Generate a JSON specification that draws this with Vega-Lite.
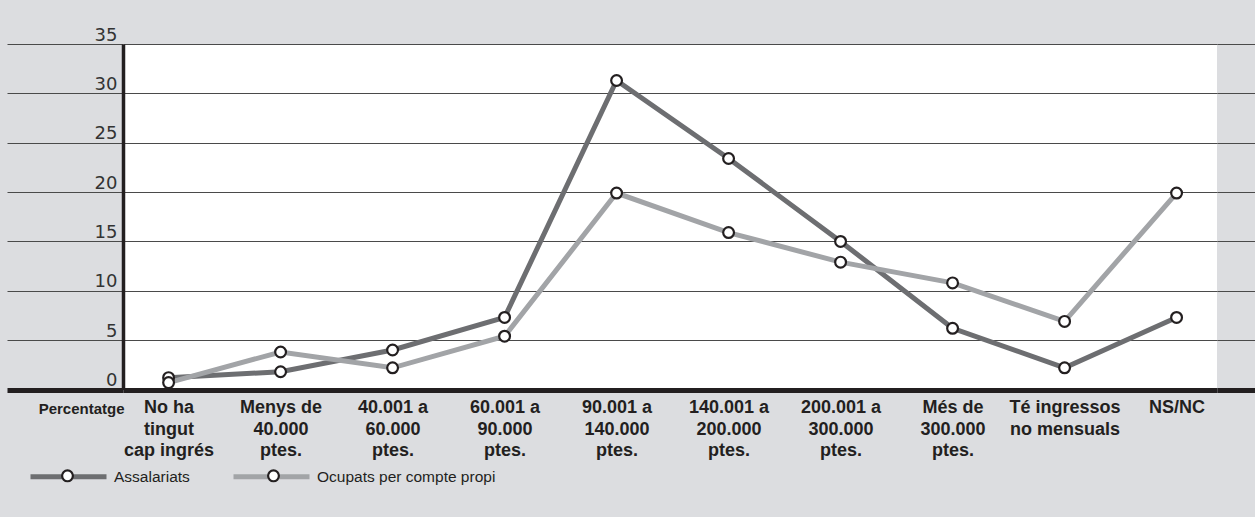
{
  "$schema": "https://vega.github.io/schema/vega-lite/v6.json",
  "width": 1094,
  "height": 345.5,
  "autosize": {"type": "none"},
  "padding": {"left": 123, "top": 44, "right": 38, "bottom": 127.5},
  "background": "#dcdde0",
  "view": {"fill": "white", "stroke": null},
  "data": {
    "values": [
      {"cat": "No ha tingut cap ingrés", "serie": "Assalariats", "val": 1.2},
      {"cat": "Menys de 40.000 ptes.", "serie": "Assalariats", "val": 1.8},
      {"cat": "40.001 a 60.000 ptes.", "serie": "Assalariats", "val": 4.0},
      {"cat": "60.001 a 90.000 ptes.", "serie": "Assalariats", "val": 7.3},
      {"cat": "90.001 a 140.000 ptes.", "serie": "Assalariats", "val": 31.3},
      {"cat": "140.001 a 200.000 ptes.", "serie": "Assalariats", "val": 23.4},
      {"cat": "200.001 a 300.000 ptes.", "serie": "Assalariats", "val": 15.0},
      {"cat": "Més de 300.000 ptes.", "serie": "Assalariats", "val": 6.2},
      {"cat": "Té ingressos no mensuals", "serie": "Assalariats", "val": 2.2},
      {"cat": "NS/NC", "serie": "Assalariats", "val": 7.3},
      {"cat": "No ha tingut cap ingrés", "serie": "Ocupats per compte propi", "val": 0.7},
      {"cat": "Menys de 40.000 ptes.", "serie": "Ocupats per compte propi", "val": 3.8},
      {"cat": "40.001 a 60.000 ptes.", "serie": "Ocupats per compte propi", "val": 2.2},
      {"cat": "60.001 a 90.000 ptes.", "serie": "Ocupats per compte propi", "val": 5.4},
      {"cat": "90.001 a 140.000 ptes.", "serie": "Ocupats per compte propi", "val": 19.9},
      {"cat": "140.001 a 200.000 ptes.", "serie": "Ocupats per compte propi", "val": 15.9},
      {"cat": "200.001 a 300.000 ptes.", "serie": "Ocupats per compte propi", "val": 12.9},
      {"cat": "Més de 300.000 ptes.", "serie": "Ocupats per compte propi", "val": 10.8},
      {"cat": "Té ingressos no mensuals", "serie": "Ocupats per compte propi", "val": 6.9},
      {"cat": "NS/NC", "serie": "Ocupats per compte propi", "val": 19.9}
    ]
  },
  "encoding": {
    "x": {
      "field": "cat",
      "type": "nominal",
      "sort": ["No ha tingut cap ingrés", "Menys de 40.000 ptes.", "40.001 a 60.000 ptes.", "60.001 a 90.000 ptes.", "90.001 a 140.000 ptes.", "140.001 a 200.000 ptes.", "200.001 a 300.000 ptes.", "Més de 300.000 ptes.", "Té ingressos no mensuals", "NS/NC"],
      "scale": {"type": "point", "padding": 0.384, "align": 0.53},
      "axis": {
        "title": null,
        "domain": false,
        "ticks": false,
        "grid": false,
        "labelAngle": 0,
        "labelFont": "Liberation Sans",
        "labelFontWeight": "bold",
        "labelFontSize": 18,
        "labelColor": "#231f20",
        "labelLineHeight": 21.5,
        "labelBaseline": "alphabetic",
        "labelPadding": 23,
        "labelOverlap": false,
        "labelLimit": 400,
        "labelExpr": "{'No ha tingut cap ingrés': ['No ha', 'tingut', 'cap ingrés'], 'Menys de 40.000 ptes.': ['Menys de', '40.000', 'ptes.'], '40.001 a 60.000 ptes.': ['40.001 a', '60.000', 'ptes.'], '60.001 a 90.000 ptes.': ['60.001 a', '90.000', 'ptes.'], '90.001 a 140.000 ptes.': ['90.001 a', '140.000', 'ptes.'], '140.001 a 200.000 ptes.': ['140.001 a', '200.000', 'ptes.'], '200.001 a 300.000 ptes.': ['200.001 a', '300.000', 'ptes.'], 'Més de 300.000 ptes.': ['Més de', '300.000', 'ptes.'], 'Té ingressos no mensuals': ['Té ingressos', 'no mensuals'], 'NS/NC': ['NS/NC']}[datum.label]"
      }
    },
    "y": {
      "field": "val",
      "type": "quantitative",
      "scale": {"domain": [0, 35], "nice": false, "zero": true}
    }
  },
  "layer": [
    {
      "mark": {"type": "line", "strokeWidth": 5},
      "encoding": {
        "stroke": {
          "field": "serie",
          "type": "nominal",
          "scale": {"range": ["#6d6e71", "#a2a4a7"]},
          "legend": {
            "orient": "none",
            "legendX": -95,
            "legendY": 392,
            "direction": "horizontal",
            "title": null,
            "padding": 0,
            "symbolType": "stroke",
            "symbolSize": 5776,
            "symbolStrokeWidth": 5,
            "labelFont": "Liberation Sans",
            "labelFontSize": 15.5,
            "labelColor": "#231f20",
            "labelLimit": 400,
            "labelOffset": 5,
            "columnPadding": 33
          }
        },
        "y": {
          "field": "val",
          "type": "quantitative",
          "axis": {
            "values": [0, 5, 10, 15, 20, 25, 30, 35],
            "title": "Percentatge",
            "titleAngle": 0,
            "titleAlign": "right",
            "titleBaseline": "alphabetic",
            "titleX": 1,
            "titleY": 369,
            "titleFont": "Liberation Sans",
            "titleFontWeight": "bold",
            "titleFontSize": 15,
            "titleColor": "#231f20",
            "domainColor": "#231f20",
            "domainWidth": 3.5,
            "tickSize": 116,
            "tickColor": {"condition": {"test": "datum.value === 0", "value": "#231f20"}, "value": "#4a4a4a"},
            "tickWidth": {"condition": {"test": "datum.value === 0", "value": 5}, "value": 1.2},
            "grid": true,
            "gridColor": {"condition": {"test": "datum.value === 0", "value": "#231f20"}, "value": "#4a4a4a"},
            "gridWidth": {"condition": {"test": "datum.value === 0", "value": 5}, "value": 1.2},
            "gridOpacity": 1,
            "labelFont": "DejaVu Sans",
            "labelFontSize": 18,
            "labelColor": "#333333",
            "labelAlign": "right",
            "labelBaseline": "alphabetic",
            "labelPadding": -110,
            "labelOffset": -4
          }
        }
      }
    },
    {
      "mark": {"type": "point", "filled": true, "shape": "M-1,0L-1,0M1,0L1,0M0.142,0A0.142,0.142,0,1,1,-0.142,0A0.142,0.142,0,1,1,0.142,0Z", "stroke": "#231f20", "strokeWidth": 2.2, "opacity": 1, "fillOpacity": 1, "size": 5776},
      "encoding": {
        "fill": {
          "field": "serie",
          "type": "nominal",
          "scale": {
            "domain": ["Assalariats", "Ocupats per compte propi"],
            "range": ["#ffffff", "#ffffff"]
          },
          "legend": {
            "orient": "none",
            "legendX": -95,
            "legendY": 392,
            "direction": "horizontal",
            "title": null,
            "padding": 0,
            "symbolType": "M-1,0L-1,0M1,0L1,0M0.142,0A0.142,0.142,0,1,1,-0.142,0A0.142,0.142,0,1,1,0.142,0Z",
            "symbolSize": 5776,
            "symbolStrokeColor": "#231f20",
            "symbolStrokeWidth": 2.2,
            "symbolOpacity": 1,
            "labelExpr": "''",
            "labelOffset": 5,
            "columnPadding": 119
          }
        },
        "y": {
          "field": "val",
          "type": "quantitative",
          "axis": {
            "orient": "right",
            "values": [0, 5, 10, 15, 20, 25, 30, 35],
            "title": null,
            "labels": false,
            "domain": false,
            "grid": false,
            "tickSize": 38,
            "tickColor": {"condition": {"test": "datum.value === 0", "value": "#231f20"}, "value": "#4a4a4a"},
            "tickWidth": {"condition": {"test": "datum.value === 0", "value": 5}, "value": 1.2}
          }
        }
      }
    }
  ],
  "resolve": {"scale": {"y": "shared"}, "axis": {"y": "independent"}}
}
